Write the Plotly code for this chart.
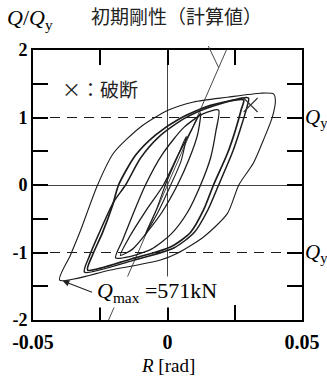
import plotly.graph_objects as go

# ---- data (R [rad], Q/Qy) ----
outer_R = [-0.0401, -0.0361, -0.0323, -0.0260, -0.0201, -0.0100, 0.0004, 0.0097, 0.0223, 0.0346, 0.0394,
           0.0401, 0.0390, 0.0357, 0.0320, 0.0265, 0.0223, 0.0134, 0.0037, -0.0026, -0.0212, -0.0401]
outer_Q = [-1.41, -1.04, -0.67, 0.00, 0.47, 0.86, 1.11, 1.23, 1.30, 1.36, 1.35,
           1.26, 1.01, 0.67, 0.33, 0.00, -0.42, -0.77, -1.01, -1.11, -1.26, -1.41]

g2a_R = [-0.0297, -0.0279, -0.0242, -0.0204, -0.0182, -0.0119, -0.0045, 0.0048, 0.0160, 0.0283,
         0.0275, 0.0253, 0.0223, 0.0171, 0.0134, 0.0086, 0.0011, -0.0138, -0.0297]
g2a_Q = [-1.26, -1.04, -0.71, -0.30, 0.00, 0.44, 0.74, 0.99, 1.18, 1.26,
         1.13, 0.82, 0.47, 0.00, -0.37, -0.70, -0.92, -1.10, -1.26]

g2b_R = [-0.0309, -0.0290, -0.0255, -0.0200, -0.0156, -0.0100, -0.0030, 0.0060, 0.0170, 0.0301,
         0.0295, 0.0270, 0.0240, 0.0190, 0.0150, 0.0100, 0.0025, -0.0130, -0.0309]
g2b_Q = [-1.29, -1.05, -0.72, -0.25, 0.00, 0.40, 0.72, 0.98, 1.17, 1.29,
         1.15, 0.82, 0.47, 0.00, -0.37, -0.70, -0.93, -1.12, -1.29]

i2_R = [-0.0193, -0.0165, -0.0125, -0.0082, -0.0020, 0.0060, 0.0130, 0.0190,
        0.0180, 0.0160, 0.0123, 0.0075, 0.0015, -0.0060, -0.0140, -0.0193]
i2_Q = [-1.08, -0.80, -0.40, 0.00, 0.45, 0.85, 1.05, 1.11,
        0.80, 0.40, 0.00, -0.40, -0.72, -0.95, -1.06, -1.08]

i1_R = [-0.0175, -0.0140, -0.0080, -0.0015, 0.0040, 0.0090, 0.0123,
        0.0112, 0.0080, 0.0037, -0.0020, -0.0080, -0.0130, -0.0175]
i1_Q = [-1.04, -0.76, -0.38, 0.00, 0.45, 0.82, 1.07,
        0.75, 0.38, 0.00, -0.40, -0.72, -0.95, -1.04]

i0_R = [-0.0085, -0.0040, -0.0008, 0.0035, 0.0070, 0.0050, 0.0012, -0.0035, -0.0085]
i0_Q = [-0.75, -0.35, 0.00, 0.40, 0.72, 0.35, 0.00, -0.40, -0.75]

init_R = [-0.0219, 0.0219]
init_Q = [-2.0, 2.0]

break_R = [0.0309]
break_Q = [1.185]

qmax_R = -0.0390
qmax_Q = -1.42
leader_R = 0.0190
leader_Q = 1.74

x_ticks = [-0.05, 0, 0.05]
x_ticktext = ["-0.05", "0", "0.05"]
y_ticks = [-2, -1, 0, 1, 2]
y_ticktext = ["-2", "-1", "0", "1", "2"]

INK = "#1c1c1c"
SERIF = "Liberation Serif"
CJK = "Noto Sans CJK JP"

fig = go.Figure()

# initial stiffness line
fig.add_trace(go.Scatter(x=init_R, y=init_Q, mode="lines",
                         line=dict(color="#333333", width=0.9), hoverinfo="skip"))

loops = [
    (i0_R, i0_Q, 1.1),
    (i1_R, i1_Q, 1.3),
    (i2_R, i2_Q, 1.3),
    (g2a_R, g2a_Q, 1.7),
    (g2b_R, g2b_Q, 1.5),
    (outer_R, outer_Q, 1.1),
]
for r, q, w in loops:
    fig.add_trace(go.Scatter(x=r, y=q, mode="lines",
                             line=dict(color=INK, width=w, shape="spline", smoothing=0.7),
                             hoverinfo="skip"))

fig.add_trace(go.Scatter(x=break_R, y=break_Q, mode="markers",
                         marker=dict(symbol="x-thin", size=14, line=dict(color="#333333", width=1.1)),
                         hoverinfo="skip"))

# dashed Qy lines
for yv in (1, -1):
    fig.add_shape(type="line", xref="paper", yref="y", x0=0, x1=1, y0=yv, y1=yv,
                  line=dict(color=INK, width=1.2, dash="10px,7px"), layer="below")

axis_common = dict(showgrid=False, showline=True, linewidth=2, linecolor="black", mirror="ticks",
                   ticks="inside", ticklen=15, tickwidth=2, tickcolor="black", automargin=False)

fig.update_layout(
    template="none",
    width=327, height=379,
    margin=dict(l=33, r=25, t=50, b=59, autoexpand=False),
    paper_bgcolor="white", plot_bgcolor="white",
    showlegend=False,
    xaxis=dict(range=[-0.05, 0.05], tickmode="array", tickvals=x_ticks, ticktext=x_ticktext,
               zeroline=True, zerolinecolor="#444444", zerolinewidth=1, ticklabelstandoff=3,
               tickfont=dict(family=SERIF, size=20, color="black", weight="bold"),
               minor=dict(tickmode="array", tickvals=[-0.025, 0.025], ticks="inside",
                          ticklen=15, tickwidth=2, tickcolor="black"),
               **axis_common),
    yaxis=dict(range=[-2, 2], tickmode="array", tickvals=y_ticks, ticktext=y_ticktext,
               zeroline=True, zerolinecolor="#444444", zerolinewidth=1,
               tickfont=dict(family=SERIF, size=18, color="black", weight="bold"),
               minor=dict(tickmode="array", tickvals=[-1.5, -0.5, 0.5, 1.5], ticks="inside",
                          ticklen=15, tickwidth=2, tickcolor="black"),
               **axis_common),
)

ann = []
ann.append(dict(xref="paper", yref="paper", x=-0.104, y=1.115, xanchor="left", yanchor="middle",
                text="<i>Q</i>/<i>Q</i><sub>y</sub>", showarrow=False,
                font=dict(family=SERIF, size=22, color="black")))
ann.append(dict(xref="paper", yref="paper", x=0.535, y=1.128, xanchor="center", yanchor="middle",
                text="初期剛性（計算値）", showarrow=False,
                font=dict(family=CJK, size=19, color="#222222")))
ann.append(dict(xref="x", yref="y", x=leader_R, y=leader_Q, ax=-11, ay=-23, text="",
                showarrow=True, arrowhead=0, arrowwidth=0.9, arrowcolor="#333333"))
ann.append(dict(xref="paper", yref="paper", x=0.249, y=0.859, xanchor="center", yanchor="middle",
                text="×：破断", showarrow=False,
                font=dict(family=CJK, size=19, color="#222222")))
for yv in (1, -1):
    ann.append(dict(xref="paper", yref="y", x=1.005, y=yv, xanchor="left", yanchor="middle",
                    text="<i>Q</i><sub>y</sub>", showarrow=False,
                    font=dict(family=SERIF, size=21, color="black")))
ann.append(dict(xref="x", yref="y", x=qmax_R, y=qmax_Q, ax=31, ay=12, text="",
                showarrow=True, arrowhead=2, arrowsize=1.2, arrowwidth=1.1, arrowcolor="#222222"))
ann.append(dict(xref="paper", yref="paper", x=0.232, y=0.104, xanchor="left", yanchor="middle",
                text="<i>Q</i><sub>max</sub> =571kN", showarrow=False, bgcolor="white",
                font=dict(family=SERIF, size=22, color="black")))
ann.append(dict(xref="paper", yref="paper", x=0.5, y=-0.167, xanchor="center", yanchor="middle",
                text="<i>R</i> [rad]", showarrow=False,
                font=dict(family=SERIF, size=19, color="black")))
fig.update_layout(annotations=ann)

fig.write_html("out.html", config={"displayModeBar": False, "staticPlot": True},
               post_script="document.body.style.margin='0';document.body.style.overflow='hidden';")
